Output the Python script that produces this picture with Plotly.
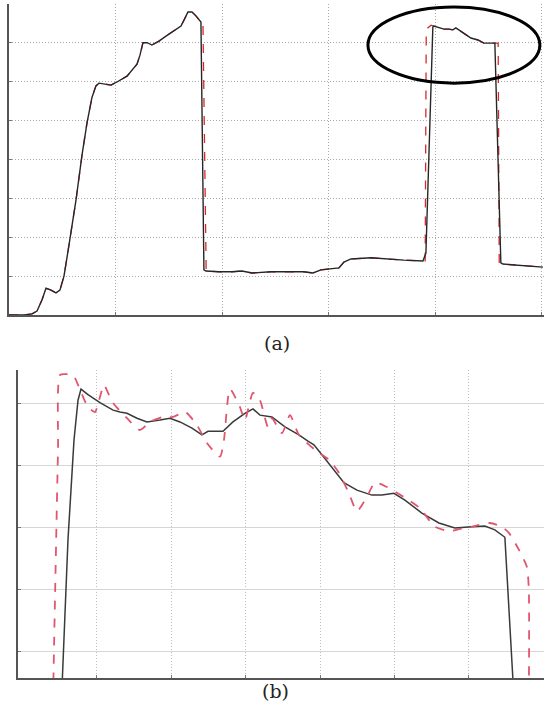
import plotly.graph_objects as go

# ---- Panel (a) data ----
a_black_x = [0, 0.141, 0.216, 0.263, 0.310, 0.347, 0.394, 0.441, 0.478, 0.516, 0.563, 0.629, 0.685,
             0.732, 0.779, 0.816, 0.844, 0.901, 0.957, 1.013, 1.107, 1.201, 1.229, 1.257, 1.295, 1.341,
             1.407, 1.473, 1.548, 1.614, 1.651, 1.679, 1.717, 1.754, 1.801, 1.829, 1.848, 1.970, 2.092,
             2.186, 2.280, 2.458, 2.627, 2.767, 2.852, 2.927, 3.096, 3.143, 3.208, 3.396, 3.705, 3.884,
             3.912, 3.977, 3.987, 4.034, 4.081, 4.128, 4.165, 4.193, 4.268, 4.334, 4.400, 4.456, 4.540,
             4.559, 4.615, 4.634, 5.009]
a_black_y = [0, 0, 0.03, 0.10, 0.39, 0.69, 0.64, 0.57, 0.64, 1.00, 1.80, 2.96, 4.11,
             4.94, 5.60, 5.89, 5.96, 5.94, 5.91, 5.99, 6.14, 6.45, 6.68, 7.00, 7.00, 6.94,
             7.04, 7.17, 7.30, 7.43, 7.63, 7.79, 7.79, 7.69, 7.53, 1.16, 1.13, 1.11, 1.11,
             1.13, 1.08, 1.11, 1.11, 1.11, 1.08, 1.16, 1.21, 1.36, 1.44, 1.47, 1.41, 1.39,
             1.59, 7.40, 7.43, 7.38, 7.35, 7.35, 7.33, 7.38, 7.25, 7.12, 7.07, 6.99, 6.99,
             6.99, 1.34, 1.31, 1.23]

a_red_x = [0, 0.141, 0.216, 0.263, 0.310, 0.347, 0.394, 0.441, 0.478, 0.516, 0.563, 0.629, 0.685,
           0.732, 0.779, 0.816, 0.844, 0.901, 0.957, 1.013, 1.107, 1.201, 1.229, 1.257, 1.295, 1.341,
           1.407, 1.473, 1.548, 1.614, 1.651, 1.679, 1.717, 1.754, 1.801, 1.820, 1.850, 1.970, 2.092,
           2.186, 2.280, 2.458, 2.627, 2.767, 2.852, 2.927, 3.096, 3.143, 3.208, 3.396, 3.705, 3.884,
           3.905, 3.915, 3.960, 4.034, 4.081, 4.128, 4.165, 4.193, 4.268, 4.334, 4.400, 4.456, 4.540,
           4.590, 4.600, 4.640, 5.009]
a_red_y = [0, 0, 0.03, 0.10, 0.39, 0.69, 0.64, 0.57, 0.64, 1.00, 1.80, 2.96, 4.11,
           4.94, 5.60, 5.89, 5.96, 5.94, 5.91, 5.99, 6.14, 6.45, 6.68, 7.00, 7.00, 6.94,
           7.04, 7.17, 7.30, 7.43, 7.63, 7.79, 7.79, 7.69, 7.53, 7.50, 1.13, 1.11, 1.11,
           1.13, 1.08, 1.11, 1.11, 1.11, 1.08, 1.16, 1.21, 1.36, 1.44, 1.47, 1.41, 1.39,
           1.39, 7.35, 7.45, 7.38, 7.35, 7.35, 7.33, 7.38, 7.25, 7.12, 7.07, 6.99, 6.99,
           6.99, 1.30, 1.31, 1.23]

# ---- Panel (b) data ----
b_black_x = [0.523, 0.610, 0.691, 0.745, 0.785, 0.879, 1.040, 1.216, 1.309, 1.403, 1.538, 1.672,
             1.847, 1.981, 2.116, 2.277, 2.411, 2.492, 2.694, 2.828, 2.989, 3.097, 3.191, 3.352,
             3.527, 3.715, 3.836, 3.917, 4.024, 4.159, 4.320, 4.495, 4.696, 4.831, 4.992, 5.140,
             5.368, 5.597, 5.812, 6.040, 6.215, 6.349, 6.484, 6.591, 6.605]
b_black_y = [0.23, 2.81, 4.42, 5.06, 5.24, 5.15, 5.02, 4.90, 4.87, 4.85, 4.77, 4.71,
             4.74, 4.77, 4.71, 4.61, 4.50, 4.56, 4.56, 4.71, 4.85, 4.92, 4.82, 4.79,
             4.63, 4.50, 4.40, 4.34, 4.18, 3.98, 3.73, 3.61, 3.53, 3.53, 3.56, 3.45,
             3.24, 3.08, 3.00, 3.02, 3.03, 2.97, 2.85, 0.58, 0.23]

b_red_x = [0.409, 0.435, 0.476, 0.503, 0.597, 0.677, 0.731, 0.772, 0.879, 0.973, 1.027, 1.094,
           1.148, 1.215, 1.403, 1.578, 1.712, 1.887, 2.022, 2.183, 2.344, 2.478, 2.653, 2.707,
           2.788, 2.922, 2.989, 3.097, 3.191, 3.298, 3.352, 3.487, 3.594, 3.715, 3.930, 4.118,
           4.253, 4.387, 4.495, 4.629, 4.737, 4.898, 5.126, 5.341, 5.543, 5.731, 5.866, 6.040,
           6.282, 6.444, 6.538, 6.672, 6.780, 6.806, 6.806]
b_red_y = [0.23, 1.84, 4.26, 5.47, 5.48, 5.47, 5.35, 5.23, 4.95, 4.87, 5.06, 5.31,
           5.18, 5.02, 4.77, 4.58, 4.71, 4.79, 4.79, 4.87, 4.66, 4.37, 4.15, 4.42,
           5.24, 4.95, 4.74, 5.18, 5.06, 4.63, 4.77, 4.53, 4.82, 4.50, 4.26, 4.10,
           3.89, 3.56, 3.27, 3.50, 3.73, 3.66, 3.50, 3.32, 3.02, 2.95, 2.98, 3.02,
           3.08, 3.02, 2.92, 2.65, 2.37, 2.00, 0.23]

a_grid_x = [1, 2, 3, 4, 5]
a_grid_y = [1, 2, 3, 4, 5, 6, 7]
b_grid_x = [1, 2, 3, 4, 5, 6, 7]
b_grid_y = [1, 2, 3, 4, 5]

captions = ["(a)", "(b)"]

BLACK = "#262626"
RED_A = "#d42a2a"
RED_B = "#e0566e"

fig = go.Figure()
fig.add_trace(go.Scatter(x=a_red_x, y=a_red_y, mode="lines", xaxis="x", yaxis="y",
                         line=dict(color=RED_A, width=1.3, dash="dash"), showlegend=False))
fig.add_trace(go.Scatter(x=a_black_x, y=a_black_y, mode="lines", xaxis="x", yaxis="y",
                         line=dict(color=BLACK, width=1.4), showlegend=False))
fig.add_trace(go.Scatter(x=b_black_x, y=b_black_y, mode="lines", xaxis="x2", yaxis="y2",
                         line=dict(color="#3a3a3a", width=1.5), showlegend=False))
fig.add_trace(go.Scatter(x=b_red_x, y=b_red_y, mode="lines", xaxis="x2", yaxis="y2",
                         line=dict(color=RED_B, width=1.8, dash="dash", shape="spline",
                                   smoothing=0.6), showlegend=False))

W, H = 544, 721
axis_common = dict(showticklabels=False, zeroline=False, showline=True, linecolor="#555",
                   linewidth=1.5, ticks="inside", ticklen=3, tickcolor="#777", mirror=False)

fig.update_layout(
    width=W, height=H, margin=dict(l=0, r=0, t=0, b=0),
    paper_bgcolor="white", plot_bgcolor="white",
    xaxis=dict(domain=[9 / W, 1.0], range=[0, 5.02], tickvals=a_grid_x,
               showgrid=True, gridcolor="#a8a8a8", griddash="1px,2px", gridwidth=1,
               anchor="y", **axis_common),
    yaxis=dict(domain=[1 - 315 / H, 1 - 3.8 / H], range=[0, 8], tickvals=a_grid_y,
               showgrid=True, gridcolor="#a8a8a8", griddash="1px,2px", gridwidth=1,
               anchor="x", **axis_common),
    xaxis2=dict(domain=[18 / W, 1.0], range=[-0.062, 7.01], tickvals=b_grid_x,
                showgrid=True, gridcolor="#c0c0c0", griddash="1px,2px", gridwidth=1,
                anchor="y2", **axis_common),
    yaxis2=dict(domain=[1 - 678 / H, 1 - 370 / H], range=[0.58, 5.548], tickvals=b_grid_y,
                showgrid=True, gridcolor="#d6d6d6", gridwidth=1,
                anchor="x2", **axis_common),
    shapes=[dict(type="circle", xref="x", yref="y", x0=3.368, x1=4.981, y0=5.96, y1=7.92,
                 line=dict(color="black", width=3))],
    annotations=[
        dict(text=captions[0], x=277 / W, y=1 - 343 / H, xref="paper", yref="paper",
             showarrow=False, font=dict(family="DejaVu Serif", size=19, color="#222")),
        dict(text=captions[1], x=275 / W, y=1 - 704 / H, xref="paper", yref="paper",
             showarrow=False, font=dict(family="DejaVu Serif", size=19, color="#222")),
    ],
)

fig.write_html("out.html", config={"displayModeBar": False},
               post_script="document.body.style.margin='0';document.body.style.overflow='hidden';")
